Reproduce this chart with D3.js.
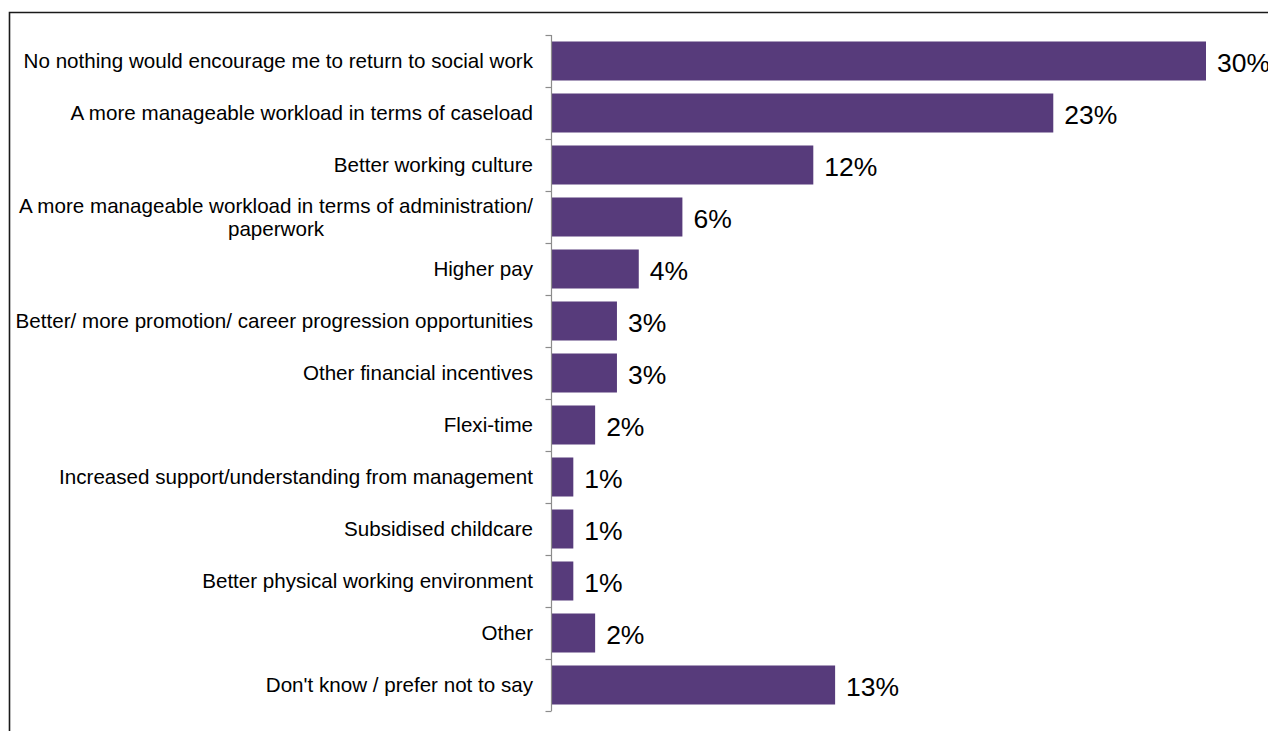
<!DOCTYPE html>
<html><head><meta charset="utf-8">
<script src="https://cdn.jsdelivr.net/npm/d3@7"></script>
<style>body{margin:0;background:#fff;} svg{display:block;}</style>
</head><body>
<svg id="chart" width="1268" height="731"></svg>
<script>
const categories = [
  ["No nothing would encourage me to return to social work"],
  ["A more manageable workload in terms of caseload"],
  ["Better working culture"],
  ["A more manageable workload in terms of administration/", "paperwork"],
  ["Higher pay"],
  ["Better/ more promotion/ career progression opportunities"],
  ["Other financial incentives"],
  ["Flexi-time"],
  ["Increased support/understanding from management"],
  ["Subsidised childcare"],
  ["Better physical working environment "],
  ["Other"],
  ["Don't know / prefer not to say"]
];
const values = [30, 23, 12, 6, 4, 3, 3, 2, 1, 1, 1, 2, 13];
const valueLabels = ["30%","23%","12%","6%","4%","3%","3%","2%","1%","1%","1%","2%","13%"];

const svg = d3.select("#chart");
const font = "'Liberation Sans', Arial, sans-serif";

// frame
svg.append("path").attr("d","M9.5,731 L9.5,12.5 L1268,12.5")
  .attr("fill","none").attr("stroke","#1a1a1a").attr("stroke-width",1.6);

const x0 = 551.5;
const x = d3.scaleLinear().domain([0, 30]).range([x0, 1206]);
const idx = d3.range(categories.length);
const y = d3.scaleBand().domain(idx).range([35, 711]).paddingInner(0.25).paddingOuter(0.125);

const g = svg.append("g");
g.selectAll("rect.bar").data(values).join("rect")
  .attr("x", x(0)).attr("y", (d,i)=>y(i))
  .attr("width", d=>x(d)-x(0)).attr("height", y.bandwidth())
  .attr("fill", "#573b7b");

g.selectAll("text.val").data(values).join("text")
  .attr("x", d=>x(d)+11).attr("y", (d,i)=>y(i)+y.bandwidth()/2)
  .attr("dy","0.4em").attr("font-family",font).attr("font-size",26.5).attr("fill","#000")
  .text((d,i)=>valueLabels[i]);

// axis
const axisScale = d3.scaleLinear().domain([0, categories.length]).range([35, 711]);
const axis = d3.axisLeft(axisScale).tickValues(d3.range(categories.length+1)).tickSize(6).tickFormat("");
const ag = svg.append("g").attr("transform",`translate(${x0},0)`).call(axis);
ag.selectAll("path,line").attr("stroke","#8c8c8c").attr("stroke-width",1.2);
ag.select("path").attr("d","M0,35V711");

// category labels
const fs = 20.6;
categories.forEach((lines,i)=>{
  const cy = y(i)+y.bandwidth()/2;
  if(lines.length===1){
    svg.append("text").attr("x",533).attr("y",cy).attr("dy","0.36em")
      .attr("text-anchor","end").attr("font-family",font).attr("font-size",fs).attr("fill","#000")
      .text(lines[0]);
  } else {
    const t1 = svg.append("text").attr("x",533).attr("y",cy-11.7).attr("dy","0.36em")
      .attr("text-anchor","end").attr("font-family",font).attr("font-size",fs).attr("fill","#000")
      .text(lines[0]);
    const w = t1.node().getComputedTextLength();
    svg.append("text").attr("x",533 - w/2).attr("y",cy+11.7).attr("dy","0.36em")
      .attr("text-anchor","middle").attr("font-family",font).attr("font-size",fs).attr("fill","#000")
      .text(lines[1]);
  }
});
</script>
</body></html>
